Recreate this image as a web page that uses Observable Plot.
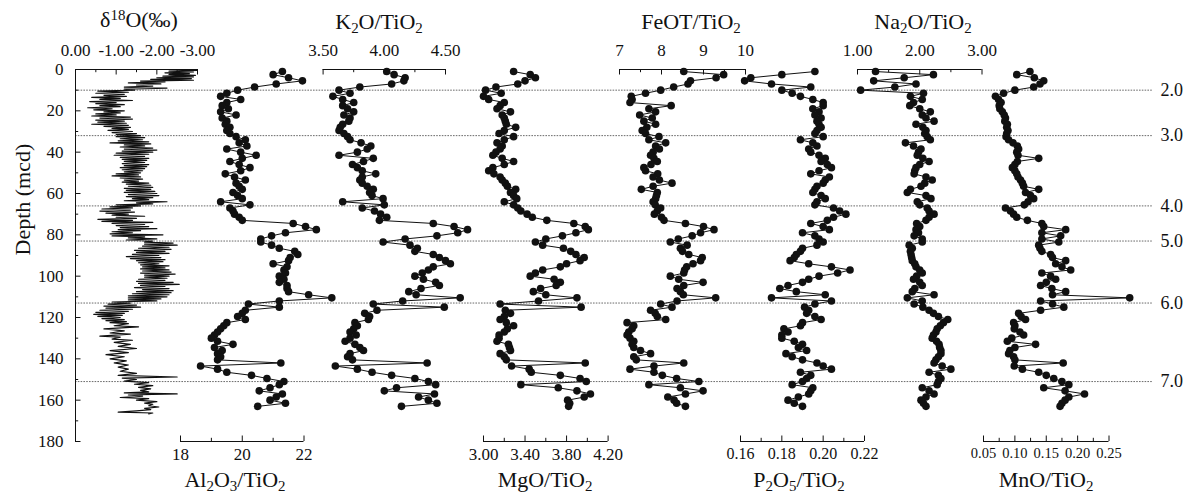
<!DOCTYPE html>
<html><head><meta charset="utf-8">
<script src="https://cdn.jsdelivr.net/npm/d3@7"></script>
<script src="https://cdn.jsdelivr.net/npm/@observablehq/plot@0.6"></script>
<style>
html,body{margin:0;padding:0;background:#fff;}
#chart{position:relative;width:1194px;height:497px;overflow:hidden;font-family:"Liberation Serif","Times New Roman",serif;color:#111;background:#fff;}
#chart svg{position:absolute;left:0;top:0;}
.ttl{position:absolute;font-size:22px;white-space:nowrap;transform:translate(-50%,-50%);line-height:1;}
.ttl sub{font-size:0.68em;vertical-align:-0.28em;line-height:0;}
.ttl sup{font-size:0.68em;vertical-align:0.5em;line-height:0;}
</style></head><body><div id="chart"></div>
<script>
// ---------------- data ----------------
const sampleDepth = [1,2.5,4,5.5,7,8.5,10,11.5,13,14.5,16,17.5,19,20.5,22,23.5,25,26.5,28,29.5,31,32.5,34,35.5,37,38.5,40,41.5,43,44.5,46,47.5,49,50.5,52,53.5,55,56.5,58,59.5,61,62.5,64,65.5,67,68.5,70,71.5,73,74.5,76,77.5,79,80.5,82,83.5,85,86.5,88,89.5,91,92.5,94,95.5,97,98.5,100,101.5,103,104.5,106,107.5,109,110.5,112,113.5,115,116.5,118,119.5,121,122.5,124,125.5,127,128.5,130,131.5,133,134.5,136,137.5,139,140.5,142,143.5,145,146.5,148,149.5,151,152.5,154,155.5,157,158.5,160,161.5,163];

const al2o3 = [21.3,21.0,21.5,21.95,21.1,20.4,19.85,19.5,19.3,19.95,
19.5,19.35,19.55,19.3,19.8,19.35,19.5,19.45,19.6,19.5,
19.6,19.8,20.1,19.9,20.15,19.5,19.95,20.45,20.0,19.6,
19.9,20.25,19.95,19.45,19.75,20.1,19.8,19.9,20.0,19.7,
19.85,20.0,19.3,20.25,19.6,19.7,19.75,19.9,20.0,21.65,
22.05,22.4,21.4,20.95,20.6,20.6,20.95,21.2,21.7,21.8,
21.55,21.5,21.0,21.45,21.35,21.4,21.2,21.35,21.2,21.45,
21.45,21.5,22.15,22.9,21.2,20.2,21.2,20.1,20.0,19.85,
20.1,19.5,19.4,19.3,19.2,19.1,19.0,19.2,19.7,19.1,
19.35,19.2,19.3,19.2,21.25,18.65,19.2,19.5,20.3,20.8,
21.35,21.2,20.9,20.55,21.3,21.1,20.9,21.4,20.5];

const k2o = [4.02,4.08,4.17,4.16,4.06,3.8,3.63,3.72,3.58,3.66,
3.75,3.66,3.7,3.75,3.67,3.72,3.71,3.66,3.64,3.63,
3.67,3.7,3.72,3.81,3.89,3.86,3.78,3.63,3.91,3.83,
3.74,3.78,3.82,3.93,3.82,3.8,3.82,3.86,3.91,3.88,
3.9,3.99,3.66,4.0,3.82,3.92,3.97,4.02,3.96,4.4,
4.57,4.68,4.6,4.43,4.17,3.99,4.21,4.27,4.25,4.4,
4.45,4.5,4.54,4.4,4.36,4.31,4.25,4.32,4.42,4.45,
4.3,4.2,4.26,4.62,4.15,3.91,4.49,3.94,3.84,3.88,
3.87,3.76,3.78,3.75,3.72,3.77,3.72,3.68,3.76,3.8,
3.83,3.72,3.7,3.74,4.35,3.6,3.78,3.9,4.06,4.25,
4.36,4.42,4.1,4.0,4.41,4.28,4.36,4.43,4.14];

const mgo = [3.29,3.45,3.5,3.4,3.33,3.12,3.02,3.17,3.0,3.05,
3.2,3.16,3.13,3.26,3.18,3.2,3.21,3.22,3.31,3.2,
3.15,3.29,3.2,3.13,3.18,3.16,3.12,3.09,3.18,3.29,
3.2,3.09,3.05,3.1,3.16,3.18,3.21,3.23,3.31,3.26,
3.29,3.32,3.2,3.29,3.33,3.36,3.42,3.47,3.61,3.87,
3.98,4.01,3.89,3.76,3.6,3.5,3.57,3.77,3.84,3.89,
3.97,3.93,3.8,3.74,3.57,3.5,3.45,3.68,3.74,3.7,
3.55,3.48,3.6,3.9,3.53,3.16,3.94,3.21,3.26,3.2,
3.16,3.22,3.29,3.23,3.2,3.15,3.15,3.13,3.24,3.25,
3.26,3.16,3.2,3.22,3.98,3.27,3.44,3.46,3.74,3.93,
3.99,3.36,3.72,3.9,4.03,3.97,3.81,3.83,3.82];

const feot = [8.53,9.48,9.3,8.69,8.63,8.29,7.98,7.62,7.28,7.3,
7.25,8.23,7.7,7.86,7.48,7.78,7.58,7.86,7.65,7.54,
7.62,7.94,7.7,8.1,7.86,7.95,7.8,7.74,7.82,7.9,
7.75,7.58,7.62,7.91,7.8,7.95,8.25,7.8,7.52,7.9,
7.88,7.86,7.8,7.85,7.98,7.9,7.83,8.0,8.06,8.57,
9.0,9.25,8.93,8.73,8.4,8.21,8.61,8.45,8.5,8.65,
8.97,8.93,8.75,8.6,8.55,8.53,8.21,8.41,8.99,8.53,
8.37,8.45,8.52,9.29,8.37,7.98,8.25,7.74,7.85,7.9,
8.1,7.18,7.34,7.3,7.22,7.18,7.25,7.34,7.3,7.34,
7.5,7.74,7.34,7.4,8.53,7.82,7.25,7.82,8.02,8.36,
8.89,7.7,8.45,8.99,8.57,8.15,8.3,8.36,8.57];

const p2o5 = [0.196,0.18,0.165,0.162,0.175,0.194,0.18,0.185,0.189,0.195,
0.2,0.2,0.195,0.198,0.196,0.199,0.197,0.198,0.199,0.197,
0.196,0.2,0.189,0.195,0.197,0.193,0.194,0.198,0.201,0.199,
0.202,0.204,0.198,0.194,0.203,0.201,0.2,0.197,0.196,0.195,
0.199,0.201,0.197,0.196,0.205,0.208,0.211,0.205,0.202,0.194,
0.2,0.203,0.19,0.196,0.198,0.2,0.197,0.19,0.189,0.187,
0.186,0.184,0.193,0.204,0.213,0.207,0.198,0.193,0.19,0.183,
0.179,0.187,0.201,0.175,0.204,0.196,0.191,0.193,0.192,0.196,
0.199,0.19,0.189,0.181,0.183,0.18,0.18,0.186,0.19,0.188,
0.192,0.182,0.185,0.19,0.197,0.2,0.204,0.189,0.194,0.192,
0.19,0.185,0.195,0.194,0.193,0.188,0.183,0.186,0.19];

const na2o = [1.29,2.22,1.75,1.26,1.94,1.6,1.05,2.06,1.85,2.04,
1.9,1.84,2.0,2.17,2.04,2.1,2.23,1.94,2.05,2.1,
2.08,2.12,2.17,1.77,1.9,2.02,1.98,1.96,2.05,2.15,
2.0,1.94,1.92,1.91,2.1,2.2,2.08,2.02,1.85,1.8,
2.1,2.18,1.96,2.0,2.12,2.15,2.23,2.15,2.1,1.95,
2.0,1.94,1.98,1.91,2.04,2.04,1.83,1.88,1.85,1.86,
1.87,1.88,1.92,1.94,2.0,2.04,1.95,1.9,2.0,2.04,
1.92,1.88,2.23,1.8,2.04,1.91,2.05,2.15,2.22,2.3,
2.45,2.38,2.33,2.28,2.26,2.22,2.2,2.27,2.31,2.32,
2.34,2.34,2.3,2.26,2.23,2.36,2.5,2.15,2.3,2.34,
2.3,2.28,2.04,2.15,2.23,2.1,2.02,2.06,2.1];

const mno = [0.124,0.103,0.131,0.146,0.14,0.13,0.1,0.082,0.069,0.074,
0.078,0.075,0.076,0.08,0.083,0.085,0.084,0.088,0.087,0.089,
0.087,0.086,0.09,0.097,0.104,0.106,0.103,0.105,0.138,0.104,
0.1,0.096,0.1,0.103,0.105,0.109,0.112,0.114,0.138,0.117,
0.125,0.13,0.121,0.115,0.085,0.093,0.098,0.103,0.12,0.143,
0.146,0.181,0.143,0.173,0.143,0.17,0.138,0.14,0.143,0.157,
0.16,0.181,0.165,0.175,0.189,0.143,0.157,0.165,0.15,0.141,
0.159,0.181,0.16,0.283,0.141,0.16,0.178,0.141,0.106,0.11,
0.117,0.098,0.1,0.099,0.108,0.114,0.095,0.088,0.133,0.1,
0.092,0.09,0.098,0.1,0.177,0.099,0.112,0.138,0.15,0.162,
0.175,0.186,0.146,0.18,0.211,0.186,0.18,0.175,0.172];

// delta 18O record: [depth (mcd), value (permil)]
const d18oRecord = [[0,-2.5],[0.4,-3.0],[0.8,-2.3],[1.2,-2.9],[1.6,-2.2],[2,-2.8],[2.4,-2.3],[2.8,-2.95],[3.2,-2.15],[3.6,-2.9],
[4,-2.0],[4.4,-2.85],[4.8,-1.85],[5.2,-2.9],[5.6,-1.6],[6,-2.2],[6.5,-1.3],[7,-2.1],[7.5,-1.5],[8,-1.9],
[8.5,-1.2],[9,-2.25],[9.5,-1.2],[10,-1.45],[10.5,-0.55],[11,-1.3],[11.5,-0.5],[12,-1.2],[12.5,-0.7],[13,-1.25],
[13.5,-0.4],[14,-1.1],[14.5,-0.6],[15,-1.4],[15.5,-0.35],[16,-1.0],[16.5,-0.5],[17,-1.2],[17.5,-0.6],[18,-1.1],
[18.5,-0.3],[19,-0.9],[19.5,-0.45],[20,-1.2],[20.5,-0.7],[21,-1.1],[21.5,-0.5],[22,-1.0],[22.5,-0.4],[23,-1.35],
[23.5,-0.6],[24,-1.4],[24.5,-0.5],[25,-1.2],[25.5,-0.55],[26,-1.25],[26.5,-0.4],[27,-1.3],[27.5,-0.7],[28,-1.35],
[28.5,-0.9],[29,-1.3],[29.5,-0.8],[30,-1.4],[30.5,-0.9],[31,-1.5],[31.5,-1.0],[32,-1.6],[32.5,-1.0],[33,-1.7],
[33.5,-1.1],[34,-1.65],[34.5,-1.05],[35,-1.8],[35.5,-0.85],[36,-1.85],[36.5,-1.2],[37,-1.7],[37.5,-1.1],[38,-1.9],
[38.5,-1.2],[39,-2.0],[39.5,-1.15],[40,-1.9],[40.5,-1.0],[41,-1.8],[41.5,-0.95],[42,-1.7],[42.5,-1.1],[43,-1.8],
[43.5,-1.15],[44,-1.75],[44.5,-1.2],[45,-1.7],[45.5,-1.15],[46,-1.8],[46.5,-1.2],[47,-1.75],[47.5,-1.1],[48,-1.7],
[48.5,-1.15],[49,-1.65],[49.5,-1.2],[50,-1.6],[50.5,-1.0],[51,-1.55],[51.5,-0.9],[52,-1.6],[52.5,-1.1],[53,-1.65],
[53.5,-1.2],[54,-1.55],[54.5,-1.15],[55,-1.8],[55.5,-1.25],[56,-1.85],[56.5,-1.3],[57,-1.9],[57.5,-1.2],[58,-1.85],
[58.5,-1.25],[59,-1.95],[59.5,-1.2],[60,-2.0],[60.5,-1.3],[61,-2.05],[61.5,-1.25],[62,-1.9],[62.5,-1.4],[63,-1.8],
[63.5,-1.2],[64,-2.25],[64.5,-1.5],[65,-1.9],[65.5,-1.0],[66,-1.6],[66.5,-0.85],[67,-1.4],[67.5,-0.65],[68,-1.35],
[68.5,-0.6],[69,-1.45],[69.5,-0.75],[70,-1.3],[70.5,-0.9],[71,-1.7],[71.5,-1.0],[72,-1.5],[72.5,-0.55],[73,-1.4],
[73.5,-0.65],[74,-1.9],[74.5,-0.9],[75,-1.7],[75.5,-1.0],[76,-1.8],[76.5,-1.1],[77,-2.0],[77.5,-1.05],[78,-1.6],
[78.5,-0.9],[79,-1.4],[79.5,-0.85],[80,-2.15],[80.5,-0.9],[81,-1.7],[81.5,-1.3],[82,-2.0],[82.5,-1.25],[83,-1.9],
[83.5,-1.7],[84,-2.4],[84.5,-1.7],[85,-2.5],[85.5,-1.65],[86,-2.3],[86.5,-1.55],[87,-2.35],[87.5,-1.45],[88,-2.2],
[88.5,-1.5],[89,-2.3],[89.5,-1.4],[90,-2.05],[90.5,-1.25],[91,-2.1],[91.5,-1.35],[92,-2.2],[92.5,-1.5],[93,-2.15],
[93.5,-1.55],[94,-2.05],[94.5,-1.6],[95,-2.3],[95.5,-1.65],[96,-2.2],[96.5,-1.6],[97,-2.3],[97.5,-1.65],[98,-2.35],
[98.5,-1.6],[99,-2.45],[99.5,-1.7],[100,-2.3],[100.5,-1.7],[101,-2.25],[101.5,-1.55],[102,-2.2],[102.5,-1.5],[103,-2.4],
[103.5,-1.55],[104,-2.55],[104.5,-1.6],[105,-2.2],[105.5,-1.45],[106,-2.3],[106.5,-1.65],[107,-2.4],[107.5,-1.5],[108,-2.35],
[108.5,-1.4],[109,-2.3],[109.5,-1.3],[110,-2.25],[110.5,-1.3],[111,-2.1],[111.5,-1.3],[112,-2.0],[112.5,-0.9],[113,-1.35],
[113.5,-0.8],[114,-1.5],[114.5,-0.7],[115,-1.6],[115.5,-0.75],[116,-1.4],[116.5,-0.6],[117,-1.3],[117.5,-0.5],[118,-1.2],
[118.5,-0.45],[119,-1.15],[119.5,-0.55],[120,-1.1],[120.5,-0.65],[121,-1.2],[121.5,-0.75],[122,-1.25],[122.5,-0.85],[123,-1.3],
[124,-0.95],[124.5,-1.55],[125.5,-0.7],[126.5,-1.2],[127.5,-0.85],[128,-1.35],[129,-0.6],[129.5,-1.1],[130.5,-0.9],[131,-1.4],
[132,-0.95],[133,-1.35],[134,-1.05],[135,-1.5],[136,-0.85],[137,-1.3],[138,-0.75],[139,-1.2],[140,-0.85],[141,-1.25],
[142,-0.95],[143,-1.3],[144,-1.05],[145,-1.3],[146,-1.1],[147,-1.5],[148,-1.05],[148.8,-2.5],[149.3,-1.15],[150,-1.5],
[150.8,-1.2],[151.5,-1.8],[152.3,-1.45],[153,-1.9],[153.8,-1.55],[154.5,-1.85],[155.3,-1.6],[156,-1.8],[156.5,-1.2],[157,-2.5],
[157.5,-1.3],[158,-1.65],[158.7,-1.1],[159.3,-1.8],[160,-1.5],[160.7,-2.0],[161.4,-1.7],[162,-1.9],[162.7,-1.8],[163.3,-2.05],
[164,-1.7],[164.6,-1.85],[165.2,-1.5],[165.8,-1.05],[166.2,-1.9],[166.6,-1.8]];

const boundaryDepth = [10, 32, 66, 83, 113, 151];
const boundaryLabel = ["2.0", "3.0", "4.0", "5.0", "6.0", "7.0"];
const depthTicks = [0, 20, 40, 60, 80, 100, 120, 140, 160, 180];
const depthMinorTicks = [0, 10, 20, 30, 40, 50, 60, 70, 80, 90, 100, 110, 120, 130, 140, 150, 160, 170, 180];

const d18oTicks = [0, -0.5, -1, -1.5, -2, -2.5, -3];
const d18oLabelTicks = [0, -1, -2, -3];
const d18oTickLabels = ["0.00", "-1.00", "-2.00", "-3.00"];
const al2o3Ticks = [18, 19, 20, 21, 22];
const al2o3LabelTicks = [18, 20, 22];
const al2o3TickLabels = ["18", "20", "22"];
const k2oTicks = [3.5, 3.75, 4, 4.25, 4.5];
const k2oLabelTicks = [3.5, 4, 4.5];
const k2oTickLabels = ["3.50", "4.00", "4.50"];
const mgoTicks = [3.0, 3.2, 3.4, 3.6, 3.8, 4.0, 4.2];
const mgoLabelTicks = [3.0, 3.4, 3.8, 4.2];
const mgoTickLabels = ["3.00", "3.40", "3.80", "4.20"];
const feotTicks = [7, 7.5, 8, 8.5, 9, 9.5, 10];
const feotLabelTicks = [7, 8, 9, 10];
const feotTickLabels = ["7", "8", "9", "10"];
const p2o5Ticks = [0.16, 0.17, 0.18, 0.19, 0.2, 0.21, 0.22];
const p2o5LabelTicks = [0.16, 0.18, 0.2, 0.22];
const p2o5TickLabels = ["0.16", "0.18", "0.20", "0.22"];
const na2oTicks = [1, 1.5, 2, 2.5, 3];
const na2oLabelTicks = [1, 2, 3];
const na2oTickLabels = ["1.00", "2.00", "3.00"];
const mnoTicks = [0.05, 0.075, 0.1, 0.125, 0.15, 0.175, 0.2, 0.225, 0.25];
const mnoLabelTicks = [0.05, 0.1, 0.15, 0.2, 0.25];
const mnoTickLabels = ["0.05", "0.10", "0.15", "0.20", "0.25"];

// ---------------- layout ----------------
const W = 1194, H = 497, TOP = 69, BOTTOM = 441;
const FONT = '"Liberation Serif", "Times New Roman", serif';
const INK = "#111";
const pxPerDepth = (BOTTOM - TOP) / 180;

const panels = [
  {x0: 75, x1: 197, domain: [0, -3], side: "top", ticks: d18oTicks, labelTicks: d18oLabelTicks, labels: d18oTickLabels, record: d18oRecord, fs: 17},
  {x0: 180, x1: 303.5, domain: [18, 22], side: "bottom", ticks: al2o3Ticks, labelTicks: al2o3LabelTicks, labels: al2o3TickLabels, values: al2o3, fs: 17},
  {x0: 322.6, x1: 445, domain: [3.5, 4.5], side: "top", ticks: k2oTicks, labelTicks: k2oLabelTicks, labels: k2oTickLabels, values: k2o, fs: 17},
  {x0: 483, x1: 607.6, domain: [3.0, 4.2], side: "bottom", ticks: mgoTicks, labelTicks: mgoLabelTicks, labels: mgoTickLabels, values: mgo, fs: 17},
  {x0: 619, x1: 745, domain: [7, 10], side: "top", ticks: feotTicks, labelTicks: feotLabelTicks, labels: feotTickLabels, values: feot, fs: 17},
  {x0: 740, x1: 864, domain: [0.16, 0.22], side: "bottom", ticks: p2o5Ticks, labelTicks: p2o5LabelTicks, labels: p2o5TickLabels, values: p2o5, fs: 16},
  {x0: 857, x1: 981.5, domain: [1, 3], side: "top", ticks: na2oTicks, labelTicks: na2oLabelTicks, labels: na2oTickLabels, values: na2o, fs: 17},
  {x0: 983, x1: 1108.5, domain: [0.05, 0.25], side: "bottom", ticks: mnoTicks, labelTicks: mnoLabelTicks, labels: mnoTickLabels, values: mno, fs: 14.5}
];

function frameOpts(x0, x1, domain, marks) {
  return {
    width: W, height: H,
    marginLeft: x0, marginRight: W - x1, marginTop: TOP, marginBottom: H - BOTTOM,
    style: {background: "transparent", fontFamily: FONT, fontSize: "17px", color: INK, overflow: "visible"},
    x: {type: "linear", domain, axis: null},
    y: {type: "linear", domain: [0, 180], reverse: true, axis: null},
    marks
  };
}

const chart = document.getElementById("chart");

// boundary lines + right labels
chart.appendChild(Plot.plot(frameOpts(75, 1153, [0, 1], [
  Plot.ruleY(boundaryDepth, {stroke: "#6a6a6a", strokeWidth: 1, strokeDasharray: "1.6,1.2"}),
  Plot.axisY(boundaryDepth, {anchor: "right", tickSize: 0, tickPadding: 7, label: null, fontSize: 18,
    tickFormat: d => boundaryLabel[boundaryDepth.indexOf(d)]})
])));

panels.forEach((p) => {
  const edge = p.side === "top" ? 0 : 180;
  const sgn = p.side === "top" ? 1 : -1;
  const majorLen = 5.5 / pxPerDepth, minorLen = 3.2 / pxPerDepth;
  const marks = [
    Plot.ruleY([edge], {x1: p.domain[0], x2: p.domain[1], stroke: INK, strokeWidth: 1}),
    Plot.ruleX(p.ticks, {x: d => d, y1: edge, y2: d => edge + sgn * (p.labelTicks.includes(d) ? majorLen : minorLen), stroke: INK, strokeWidth: 1}),
    Plot.axisX(p.labelTicks, {anchor: p.side, tickSize: 0, tickPadding: p.side === "top" ? 14 : 6, label: null, fontSize: p.fs,
      tickFormat: d => p.labels[p.labelTicks.indexOf(d)]})
  ];
  if (p.record) {
    const pxPerX = (p.x1 - p.x0) / Math.abs(p.domain[1] - p.domain[0]);
    const dir = Math.sign(p.domain[1] - p.domain[0]);
    marks.push(
      Plot.ruleX([p.domain[0]], {y1: 0, y2: 180, stroke: INK, strokeWidth: 1}),
      Plot.ruleY(depthMinorTicks, {x1: p.domain[0], x2: d => p.domain[0] + dir * (d % 20 === 0 ? 5.5 : 3.2) / pxPerX, stroke: INK, strokeWidth: 1}),
      Plot.axisY(depthTicks, {anchor: "left", tickSize: 0, tickPadding: 12, label: null, fontSize: 17}),
      Plot.text(["Depth (mcd)"], {text: d => d, frameAnchor: "left", rotate: -90, dx: -53, fontSize: 22}),
      Plot.line(p.record, {x: d => d[1], y: d => d[0], stroke: INK, strokeWidth: 1.2})
    );
  } else {
    const rows = sampleDepth.map((d, i) => ({depth: d, value: p.values[i]}));
    marks.push(
      Plot.line(rows, {x: "value", y: "depth", stroke: INK, strokeWidth: 1}),
      Plot.dot(rows, {x: "value", y: "depth", r: 3.8, fill: INK})
    );
  }
  chart.appendChild(Plot.plot(frameOpts(p.x0, p.x1, p.domain, marks)));
});

// titles (HTML, with sub/superscripts)
const titles = [
  {html: "δ<sup>18</sup>O(‰)", x: 139, y: 20},
  {html: "K<sub>2</sub>O/TiO<sub>2</sub>", x: 379, y: 22},
  {html: "FeOT/TiO<sub>2</sub>", x: 691, y: 22},
  {html: "Na<sub>2</sub>O/TiO<sub>2</sub>", x: 923, y: 22},
  {html: "Al<sub>2</sub>O<sub>3</sub>/TiO<sub>2</sub>", x: 235, y: 480},
  {html: "MgO/TiO<sub>2</sub>", x: 545, y: 480},
  {html: "P<sub>2</sub>O<sub>5</sub>/TiO<sub>2</sub>", x: 799, y: 480},
  {html: "MnO/TiO<sub>2</sub>", x: 1046, y: 480}
];
titles.forEach(t => {
  const div = document.createElement("div");
  div.className = "ttl";
  div.style.left = t.x + "px";
  div.style.top = t.y + "px";
  div.innerHTML = t.html;
  chart.appendChild(div);
});
</script></body></html>
